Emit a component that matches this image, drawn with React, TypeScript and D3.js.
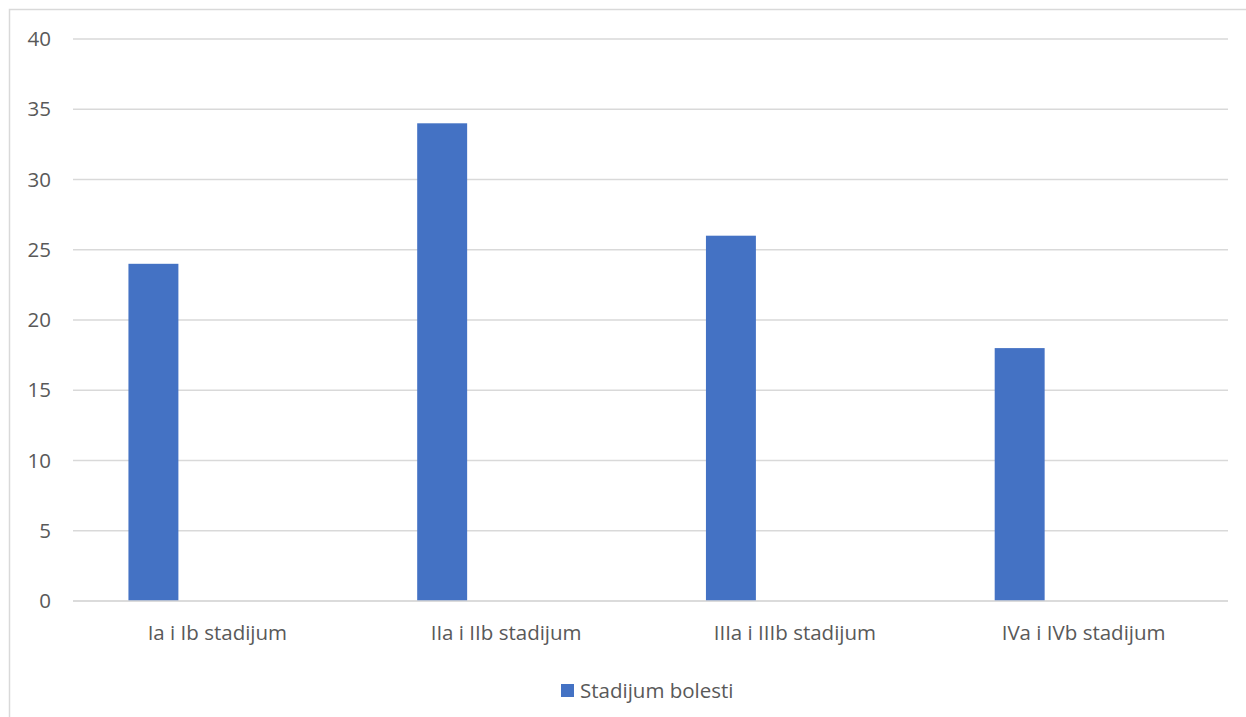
import React from "react";
import * as d3 from "d3";

const categories = ["Ia i Ib stadijum", "IIa i IIb stadijum", "IIIa i IIIb stadijum", "IVa i IVb stadijum"];
const values = [24, 34, 26, 18];
const yTicks = [0, 5, 10, 15, 20, 25, 30, 35, 40];
const seriesName = "Stadijum bolesti";

export default function App() {
  const W = 1246, H = 717;
  const left = 73, right = 1228, top = 39, bottom = 601;
  const x = d3.scaleBand<string>().domain(categories).range([left, right]).paddingInner(0).paddingOuter(0);
  const y = d3.scaleLinear().domain([0, 40]).range([bottom, top]);
  const bw = x.bandwidth();
  const barOffset = bw * 0.192;
  const barW = bw * 0.173;
  const font = "'Open Sans', sans-serif";
  const fs = 20.5;
  return (
    <svg width={W} height={H} style={{ position: "absolute", left: 0, top: 0 }}>
      <rect x={0} y={0} width={W} height={H} fill="#fff" />
      <rect x={9.5} y={9.5} width={W + 20} height={H + 20} fill="none" stroke="#d9d9d9" strokeWidth={1.5} />
      {yTicks.map((t) => (
        <g key={t}>
          <line x1={left} x2={right} y1={y(t)} y2={y(t)} stroke="#d9d9d9" strokeWidth={1.5} />
          <text x={51} y={y(t)} dy="0.35em" textAnchor="end" fontFamily={font} fontSize={fs} fill="#595959">{t}</text>
        </g>
      ))}
      {categories.map((c, i) => (
        <rect key={c} x={(x(c) as number) + barOffset} y={y(values[i])} width={barW} height={y(0) - y(values[i])} fill="#4472C4" />
      ))}
      <line x1={left} x2={right} y1={y(0)} y2={y(0)} stroke="#d9d9d9" strokeWidth={1.5} />
      {categories.map((c) => (
        <text key={c} x={(x(c) as number) + bw / 2} y={633} dy="0.35em" textAnchor="middle" fontFamily={font} fontSize={fs} fill="#595959">{c}</text>
      ))}
      <rect x={561} y={684} width={13} height={13} fill="#4472C4" />
      <text x={580} y={691} dy="0.35em" fontFamily={font} fontSize={fs} fill="#595959">{seriesName}</text>
    </svg>
  );
}
